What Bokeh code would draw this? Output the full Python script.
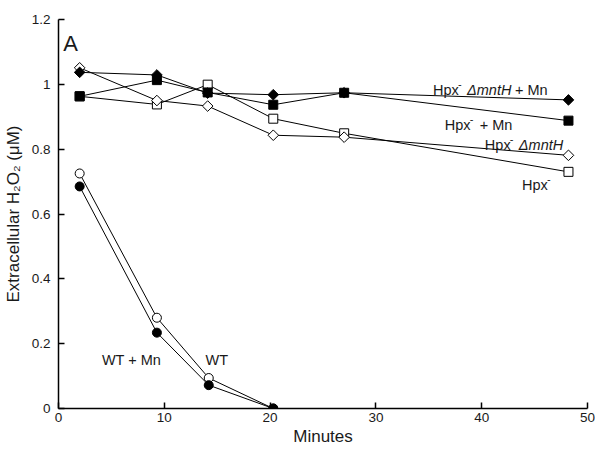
import math
from bokeh.plotting import figure
from bokeh.models import Range1d, FixedTicker
from bokeh.core.properties import value
from bokeh.embed import file_html
from bokeh.resources import INLINE

FONT = "Liberation Sans"

minutes = [2, 9.3, 14.1, 20.3, 27, 48.2]
hpx_dmnth_mn = [1.037, 1.029, 0.973, 0.968, 0.974, 0.952]
hpx_mn = [0.963, 1.013, 0.975, 0.937, 0.974, 0.888]
hpx_dmnth = [1.051, 0.950, 0.933, 0.843, 0.837, 0.781]
hpx = [0.963, 0.938, 0.999, 0.894, 0.849, 0.730]

wt_minutes = [2, 9.3, 14.2, 20.3]
wt = [0.725, 0.280, 0.094, 0.0]
wt_mn = [0.685, 0.234, 0.072, 0.0]

x_ticks = [0, 10, 20, 30, 40, 50]
y_ticks = [0, 0.2, 0.4, 0.6, 0.8, 1.0, 1.2]
y_tick_labels = {0: "0", 0.2: "0.2", 0.4: "0.4", 0.6: "0.6", 0.8: "0.8", 1.0: "1", 1.2: "1.2"}

p = figure(width=595, height=450, output_backend="svg", toolbar_location=None,
           x_range=Range1d(0, 50), y_range=Range1d(0, 1.2),
           min_border_left=58, min_border_right=8, min_border_top=19, min_border_bottom=42)
p.outline_line_color = None
p.grid.visible = False
p.background_fill_color = "white"

for ax in (p.xaxis[0], p.yaxis[0]):
    ax.major_tick_in = 6
    ax.major_tick_out = 0
    ax.minor_tick_line_color = None
    ax.axis_line_width = 1.5
    ax.major_tick_line_width = 1.5
    ax.axis_line_color = "black"
    ax.major_tick_line_color = "black"
    ax.major_label_text_font = FONT
    ax.major_label_text_font_size = "13.5px"
    ax.major_label_text_color = "#1a1a1a"
    ax.axis_label_text_font = FONT
    ax.axis_label_text_font_size = "17px"
    ax.axis_label_text_font_style = "normal"
    ax.axis_label_text_color = "#1a1a1a"

p.xaxis.ticker = FixedTicker(ticks=x_ticks)
p.yaxis.ticker = FixedTicker(ticks=y_ticks)
p.yaxis.major_label_overrides = y_tick_labels
p.xaxis.axis_label = "Minutes"
p.yaxis.axis_label = "Extracellular H\u2082O\u2082 (\u03bcM)"
p.xaxis.major_label_standoff = 4
p.xaxis.axis_label_standoff = 2
p.yaxis.major_label_standoff = 8
p.yaxis.axis_label_standoff = 6

lw = 1
rot = math.pi / 4
for ys in (hpx_dmnth_mn, hpx_mn, hpx_dmnth, hpx):
    p.line(minutes, ys, line_color="black", line_width=lw)
for ys in (wt, wt_mn):
    p.line(wt_minutes, ys, line_color="black", line_width=lw)

p.scatter(minutes, hpx, marker="square", size=9, fill_color="white", line_color="black", line_width=1)
p.scatter(minutes, hpx_dmnth, marker="square", angle=rot, size=7.5, fill_color="white", line_color="black", line_width=1)
p.scatter(minutes, hpx_mn, marker="square", size=9, fill_color="black", line_color="black")
p.scatter(minutes, hpx_dmnth_mn, marker="square", angle=rot, size=7.5, fill_color="black", line_color="black")
p.scatter(wt_minutes, wt, marker="circle", size=9, fill_color="white", line_color="black", line_width=1)
p.scatter(wt_minutes, wt_mn, marker="circle", size=9, fill_color="black", line_color="black")

def seg(x, y, t, dx=0, dy=0, size="14.5px", style="normal"):
    p.text(x=[x], y=[y], text=[t], x_offset=dx, y_offset=dy,
           text_font=value(FONT), text_font_size=size, text_font_style=style,
           text_align="left", text_baseline="alphabetic", text_color="#1a1a1a")

def hpx_label(x, y, parts):
    seg(x, y, "Hpx")
    seg(x, y, "-", dx=25, dy=-6, size="11px")
    for t, dx, st in parts:
        seg(x, y, t, dx=dx, style=st)

hpx_label(35.4, 0.983, [("\u0394mntH", 34, "italic"), ("+ Mn", 82, "normal")])
hpx_label(36.5, 0.876, [("+ Mn", 35, "normal")])
hpx_label(40.3, 0.814, [("\u0394mntH", 34, "italic")])
hpx_label(43.8, 0.691, [])
seg(4.1, 0.151, "WT + Mn")
seg(13.9, 0.151, "WT")
seg(0.45, 1.127, "A", size="22px")

open("out.html", "w").write(file_html(p, INLINE))
